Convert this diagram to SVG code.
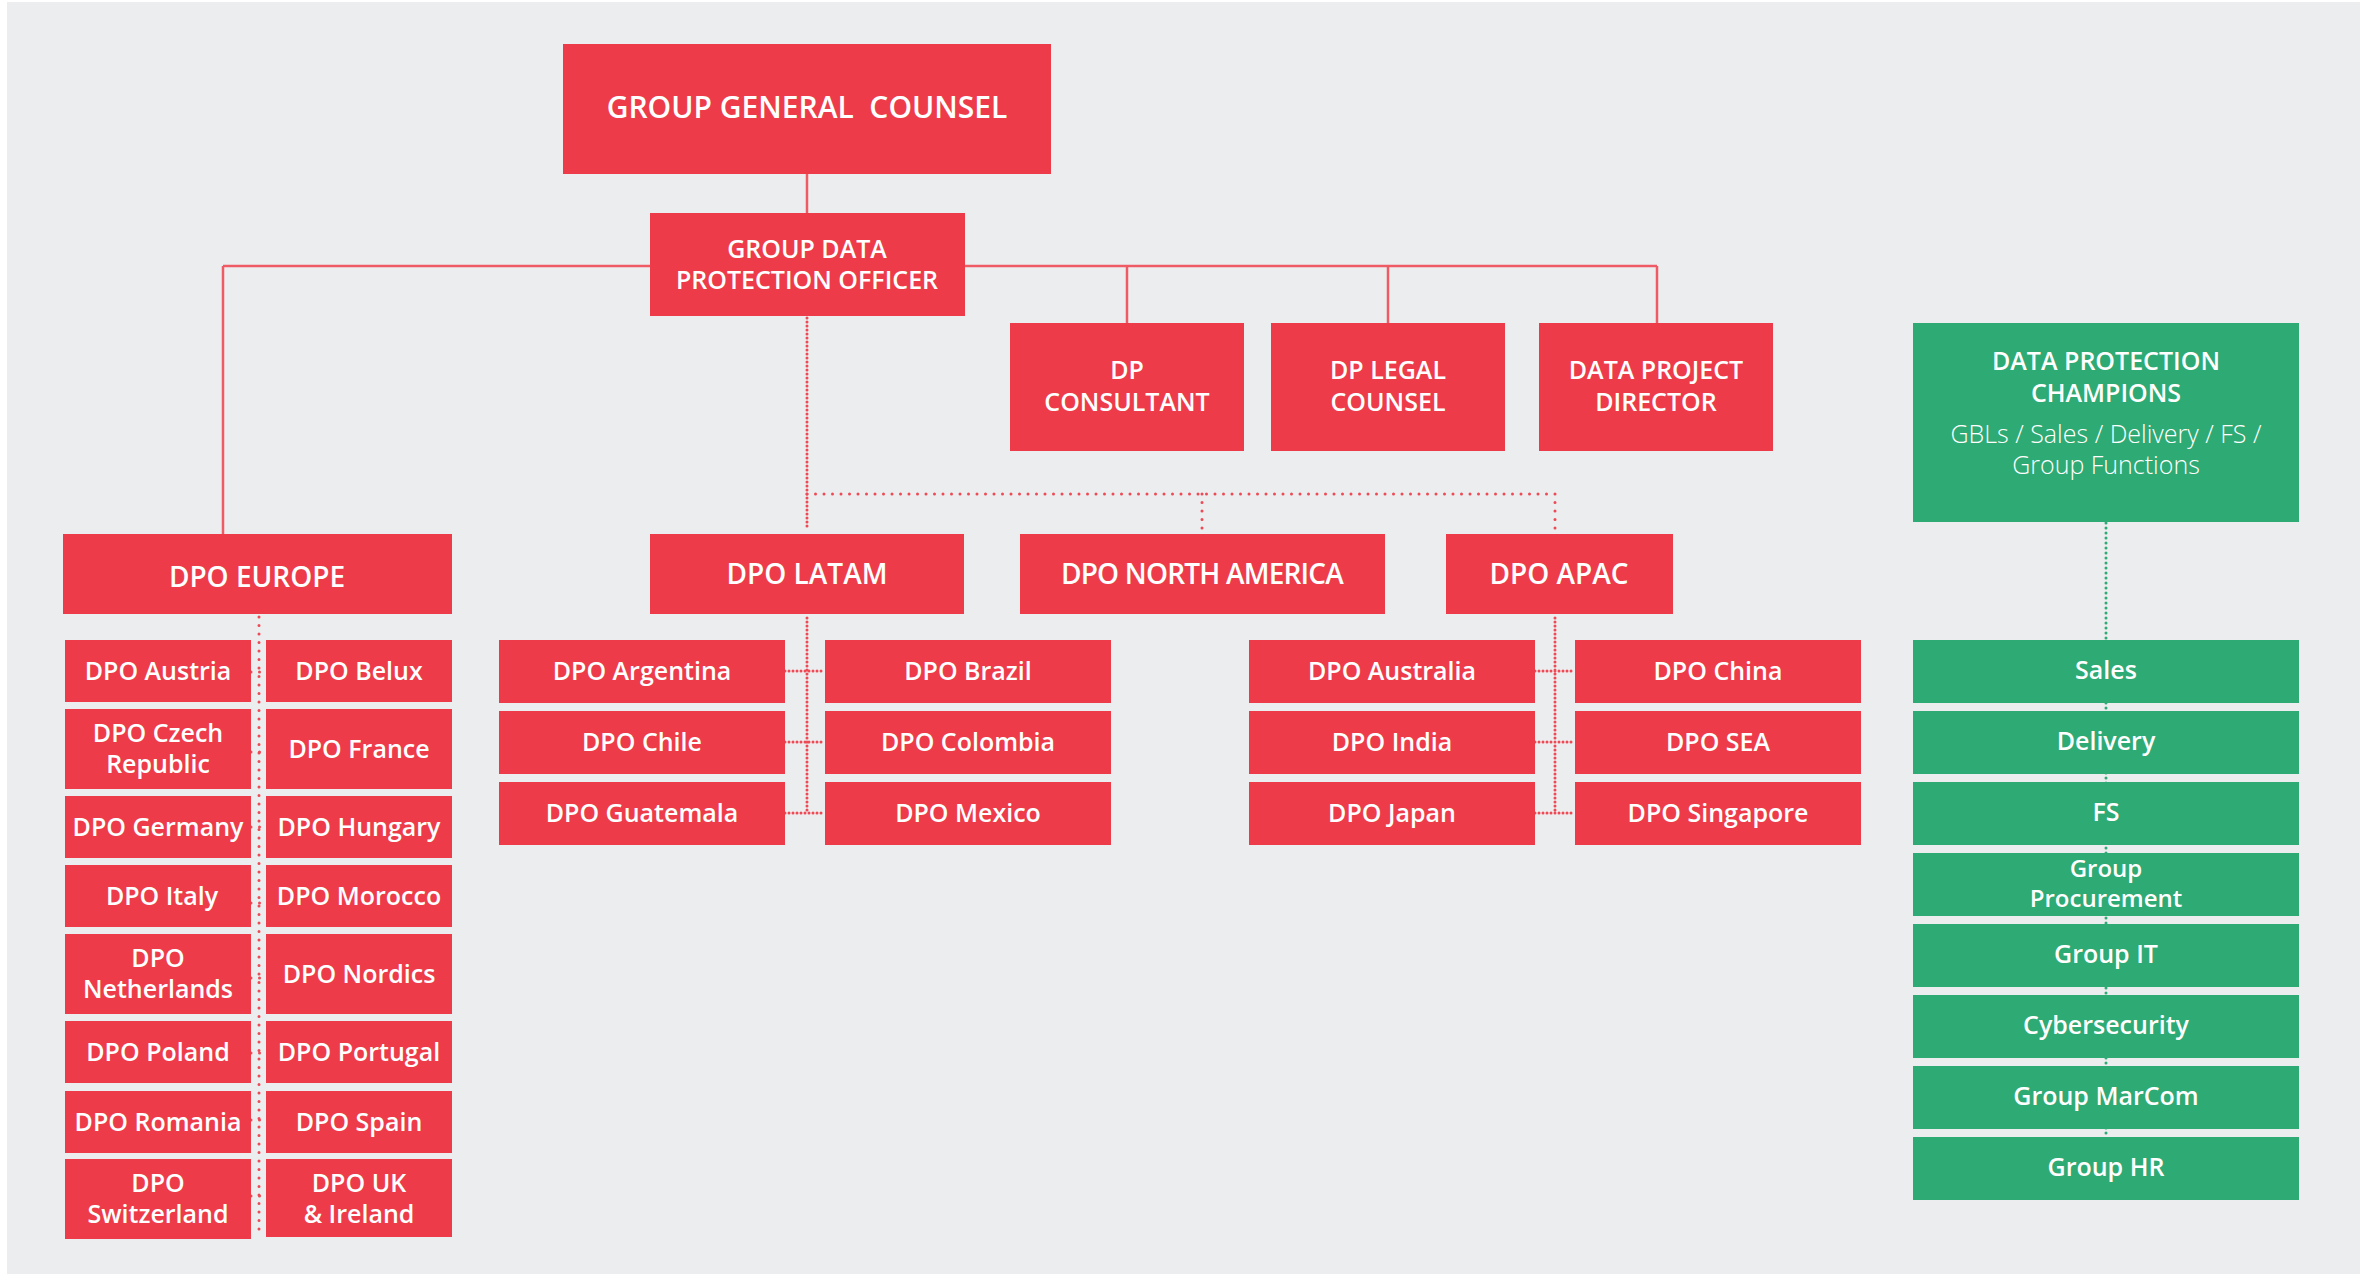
<svg xmlns="http://www.w3.org/2000/svg" width="2360" height="1274" viewBox="0 0 2360 1274">
<style>
.r{fill:#ee3b49}
.g{fill:#2eaa74}
.t{font-family:"Open Sans","Noto Sans","Liberation Sans",sans-serif;font-weight:600;fill:#ffffff;text-anchor:middle}
.s26{font-size:25px}
.s28{font-size:28px}
.lt{font-weight:300}
.solid{stroke:#ef5b65;stroke-width:2.5;fill:none}
.sp{stroke:#ee4a56;stroke-width:3;fill:none;stroke-dasharray:0 8.5;stroke-linecap:round}
.dn{stroke:#ee4a56;stroke-width:3;fill:none;stroke-dasharray:0 4;stroke-linecap:round}
.gd{stroke:#2eaa74;stroke-width:3;fill:none;stroke-dasharray:0 5;stroke-linecap:round}
</style>
<rect x="0" y="0" width="2360" height="1274" fill="#ffffff"/>
<rect x="7" y="2" width="2353" height="1272" fill="#ecedef"/>
<g id="connectors">
<path class="solid" d="M807 174V213M223 266H1657M223 266V534M1127 266V323M1388 266V323M1657 266V323"/>
<path class="dn" d="M807 318V530"/>
<path class="sp" d="M807 494H1555M1202 494V530M1555 494V530"/>
<path class="dn" d="M807 618V813M785 671H825M785 742H825M785 813H825"/>
<path class="dn" d="M1555 618V813M1535 671H1575M1535 742H1575M1535 813H1575"/>
<path class="sp" d="M259 617V1233"/>
<path class="sp" d="M251 672H267M251 752H267M251 827H267M251 903H267M251 978H267M251 1053H267M251 1120H267M251 1196H267"/>
<path class="gd" d="M2106 523V1137"/>
</g>
<g id="ggc"><rect class="r" x="563" y="44" width="488" height="130"/><text class="t" x="807" y="118" font-size="30">GROUP GENERAL&#160; COUNSEL</text></g>
<g id="gdpo"><rect class="r" x="650" y="213" width="315" height="103"/><text class="t s26" x="807" y="258">GROUP DATA<tspan x="807" y="289">PROTECTION OFFICER</tspan></text></g>
<g id="dp-consultant"><rect class="r" x="1010" y="323" width="234" height="128"/><text class="t s26" x="1127" y="379">DP<tspan x="1127" y="411">CONSULTANT</tspan></text></g>
<g id="dp-legal"><rect class="r" x="1271" y="323" width="234" height="128"/><text class="t s26" x="1388" y="379">DP LEGAL<tspan x="1388" y="411">COUNSEL</tspan></text></g>
<g id="data-project-director"><rect class="r" x="1539" y="323" width="234" height="128"/><text class="t s26" x="1656" y="379">DATA PROJECT<tspan x="1656" y="411">DIRECTOR</tspan></text></g>
<g id="dpo-europe"><rect class="r" x="63" y="534" width="389" height="80"/><text class="t s28" x="257" y="587">DPO EUROPE</text></g>
<g id="dpo-latam"><rect class="r" x="650" y="534" width="314" height="80"/><text class="t s28" x="807" y="584">DPO LATAM</text></g>
<g id="dpo-na"><rect class="r" x="1020" y="534" width="365" height="80"/><text class="t s28" x="1202" y="584" letter-spacing="-0.8">DPO NORTH AMERICA</text></g>
<g id="dpo-apac"><rect class="r" x="1446" y="534" width="227" height="80"/><text class="t s28" x="1559" y="584">DPO APAC</text></g>
<g id="europe-children">
<g id="austria"><rect class="r" x="65" y="640" width="186" height="62"/><text class="t s26" x="158" y="680">DPO Austria</text></g>
<g id="belux"><rect class="r" x="266" y="640" width="186" height="62"/><text class="t s26" x="359" y="680">DPO Belux</text></g>
<g id="czech"><rect class="r" x="65" y="709" width="186" height="80"/><text class="t s26" x="158" y="742">DPO Czech<tspan x="158" y="773">Republic</tspan></text></g>
<g id="france"><rect class="r" x="266" y="709" width="186" height="80"/><text class="t s26" x="359" y="758">DPO France</text></g>
<g id="germany"><rect class="r" x="65" y="796" width="186" height="62"/><text class="t s26" x="158" y="836">DPO Germany</text></g>
<g id="hungary"><rect class="r" x="266" y="796" width="186" height="62"/><text class="t s26" x="359" y="836">DPO Hungary</text></g>
<g id="italy"><rect class="r" x="65" y="865" width="186" height="62"/><text class="t s26" x="162" y="905">DPO Italy</text></g>
<g id="morocco"><rect class="r" x="266" y="865" width="186" height="62"/><text class="t s26" x="359" y="905">DPO Morocco</text></g>
<g id="netherlands"><rect class="r" x="65" y="934" width="186" height="80"/><text class="t s26" x="158" y="967">DPO<tspan x="158" y="998">Netherlands</tspan></text></g>
<g id="nordics"><rect class="r" x="266" y="934" width="186" height="80"/><text class="t s26" x="359" y="983">DPO Nordics</text></g>
<g id="poland"><rect class="r" x="65" y="1021" width="186" height="62"/><text class="t s26" x="158" y="1061">DPO Poland</text></g>
<g id="portugal"><rect class="r" x="266" y="1021" width="186" height="62"/><text class="t s26" x="359" y="1061">DPO Portugal</text></g>
<g id="romania"><rect class="r" x="65" y="1091" width="186" height="62"/><text class="t s26" x="158" y="1131">DPO Romania</text></g>
<g id="spain"><rect class="r" x="266" y="1091" width="186" height="62"/><text class="t s26" x="359" y="1131">DPO Spain</text></g>
<g id="switzerland"><rect class="r" x="65" y="1159" width="186" height="80"/><text class="t s26" x="158" y="1192">DPO<tspan x="158" y="1223">Switzerland</tspan></text></g>
<g id="uk"><rect class="r" x="266" y="1159" width="186" height="78"/><text class="t s26" x="359" y="1192">DPO UK<tspan x="359" y="1223">&amp; Ireland</tspan></text></g>
</g>
<g id="latam-children">
<g id="argentina"><rect class="r" x="499" y="640" width="286" height="63"/><text class="t s26" x="642" y="680">DPO Argentina</text></g>
<g id="brazil"><rect class="r" x="825" y="640" width="286" height="63"/><text class="t s26" x="968" y="680">DPO Brazil</text></g>
<g id="chile"><rect class="r" x="499" y="711" width="286" height="63"/><text class="t s26" x="642" y="751">DPO Chile</text></g>
<g id="colombia"><rect class="r" x="825" y="711" width="286" height="63"/><text class="t s26" x="968" y="751">DPO Colombia</text></g>
<g id="guatemala"><rect class="r" x="499" y="782" width="286" height="63"/><text class="t s26" x="642" y="822">DPO Guatemala</text></g>
<g id="mexico"><rect class="r" x="825" y="782" width="286" height="63"/><text class="t s26" x="968" y="822">DPO Mexico</text></g>
</g>
<g id="apac-children">
<g id="australia"><rect class="r" x="1249" y="640" width="286" height="63"/><text class="t s26" x="1392" y="680">DPO Australia</text></g>
<g id="china"><rect class="r" x="1575" y="640" width="286" height="63"/><text class="t s26" x="1718" y="680">DPO China</text></g>
<g id="india"><rect class="r" x="1249" y="711" width="286" height="63"/><text class="t s26" x="1392" y="751">DPO India</text></g>
<g id="sea"><rect class="r" x="1575" y="711" width="286" height="63"/><text class="t s26" x="1718" y="751">DPO SEA</text></g>
<g id="japan"><rect class="r" x="1249" y="782" width="286" height="63"/><text class="t s26" x="1392" y="822">DPO Japan</text></g>
<g id="singapore"><rect class="r" x="1575" y="782" width="286" height="63"/><text class="t s26" x="1718" y="822">DPO Singapore</text></g>
</g>
<g id="champions"><rect class="g" x="1913" y="323" width="386" height="199"/><text class="t s26" x="2106" y="370">DATA PROTECTION<tspan x="2106" y="402">CHAMPIONS</tspan></text><text class="t s26 lt" x="2106" y="443">GBLs / Sales / Delivery / FS /<tspan x="2106" y="474">Group Functions</tspan></text></g>
<g id="green-children">
<g id="sales"><rect class="g" x="1913" y="640" width="386" height="63"/><text class="t s26" x="2106" y="679">Sales</text></g>
<g id="delivery"><rect class="g" x="1913" y="711" width="386" height="63"/><text class="t s26" x="2106" y="750">Delivery</text></g>
<g id="fs"><rect class="g" x="1913" y="782" width="386" height="63"/><text class="t s26" x="2106" y="821">FS</text></g>
<g id="procurement"><rect class="g" x="1913" y="853" width="386" height="63"/><text class="t" font-size="24" x="2106" y="877">Group<tspan x="2106" y="907">Procurement</tspan></text></g>
<g id="it"><rect class="g" x="1913" y="924" width="386" height="63"/><text class="t s26" x="2106" y="963">Group IT</text></g>
<g id="cyber"><rect class="g" x="1913" y="995" width="386" height="63"/><text class="t s26" x="2106" y="1034">Cybersecurity</text></g>
<g id="marcom"><rect class="g" x="1913" y="1066" width="386" height="63"/><text class="t s26" x="2106" y="1105">Group MarCom</text></g>
<g id="hr"><rect class="g" x="1913" y="1137" width="386" height="63"/><text class="t s26" x="2106" y="1176">Group HR</text></g>
</g>
</svg>
